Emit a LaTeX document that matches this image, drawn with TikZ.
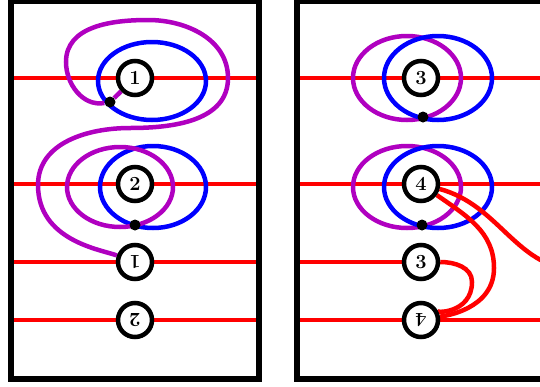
\documentclass[tikz,border=0pt]{standalone}
\usetikzlibrary{backgrounds}
\definecolor{loopviolet}{RGB}{176,0,192}

\begin{document}
\begin{tikzpicture}
        [x=1pt,y=-1pt,
        site/.style={circle,draw,fill=white,line width=4.5pt,minimum size=34pt,inner sep=0pt,
            font=\fontsize{20}{24}\selectfont\bfseries},
        flipped/.style={site,rotate=180},
        dot/.style={circle,fill,inner sep=0pt,minimum size=11pt},
        wire/.style={red,line width=4.5pt},
        blueloop/.style={blue,line width=4.5pt},
        violetloop/.style={loopviolet,line width=4.5pt},
        frame/.style={line width=6pt}]
    \useasboundingbox (0,0) rectangle (540,386);
    % left panel
    \node[site] (a1) at (135,78) {1};
    \node[site] (a2) at (135,184) {2};
    \node[flipped] (b1) at (135,262) {1};
    \node[flipped] (b2) at (135,320) {2};
    \node[dot] (p1) at (110,102) {};
    \node[dot] (p2) at (135,225) {};
    % right panel
    \node[site] (c3) at (421,78) {3};
    \node[site] (c4) at (421,184) {4};
    \node[site] (e3) at (421,262) {3};
    \node[flipped] (e4) at (421,320) {4};
    \node[dot] (p3) at (423,117) {};
    \node[dot] (p4) at (422,225) {};
    \begin{scope}[on background layer]
        \foreach \n/\y in {a1/78,a2/184,b1/262,b2/320}
            \draw[wire] (14,\y) -- (\n) -- (256,\y);
        \foreach \n/\y in {c3/78,c4/184,e4/320}
            \draw[wire] (300,\y) -- (\n) -- (545,\y);
        \draw[wire] (300,262) -- (e3);
        \draw[wire] (e3) to[out=0,in=90] (472,282) to[out=270,in=30] (e4);
        % loops
        \draw[blueloop] (152,81) ellipse [x radius=54, y radius=39];
        \draw[blueloop] (153,187) ellipse [x radius=53, y radius=41];
        \draw[violetloop] (120,187) ellipse [x radius=53, y radius=40];
        \draw[violetloop] (a1) -- (p1) to[out=190,in=270] (66,62) to[out=90,in=180] (148,20)
            to[out=0,in=90] (228,78) to[out=270,in=0] (130,128) to[out=180,in=90] (38,185)
            to[out=270,in=160] (b1);
        \draw[violetloop] (407,78) ellipse [x radius=54, y radius=42];
        \draw[blueloop] (438,78) ellipse [x radius=54, y radius=42];
        \draw[violetloop] (407,187) ellipse [x radius=54, y radius=41];
        \draw[blueloop] (438,187) ellipse [x radius=54, y radius=41];
        \draw[wire] (c4) to[out=-35,in=90] (494,268) to[out=270,in=10] (e4);
        \draw[wire] (c4) to[out=-15,in=180] (580,270);
    \end{scope}
    \draw[frame] (11,1) rectangle (259,379);
    \draw[frame] (545,1) -| (297,379) -- (545,379);
\end{tikzpicture}
\end{document}
